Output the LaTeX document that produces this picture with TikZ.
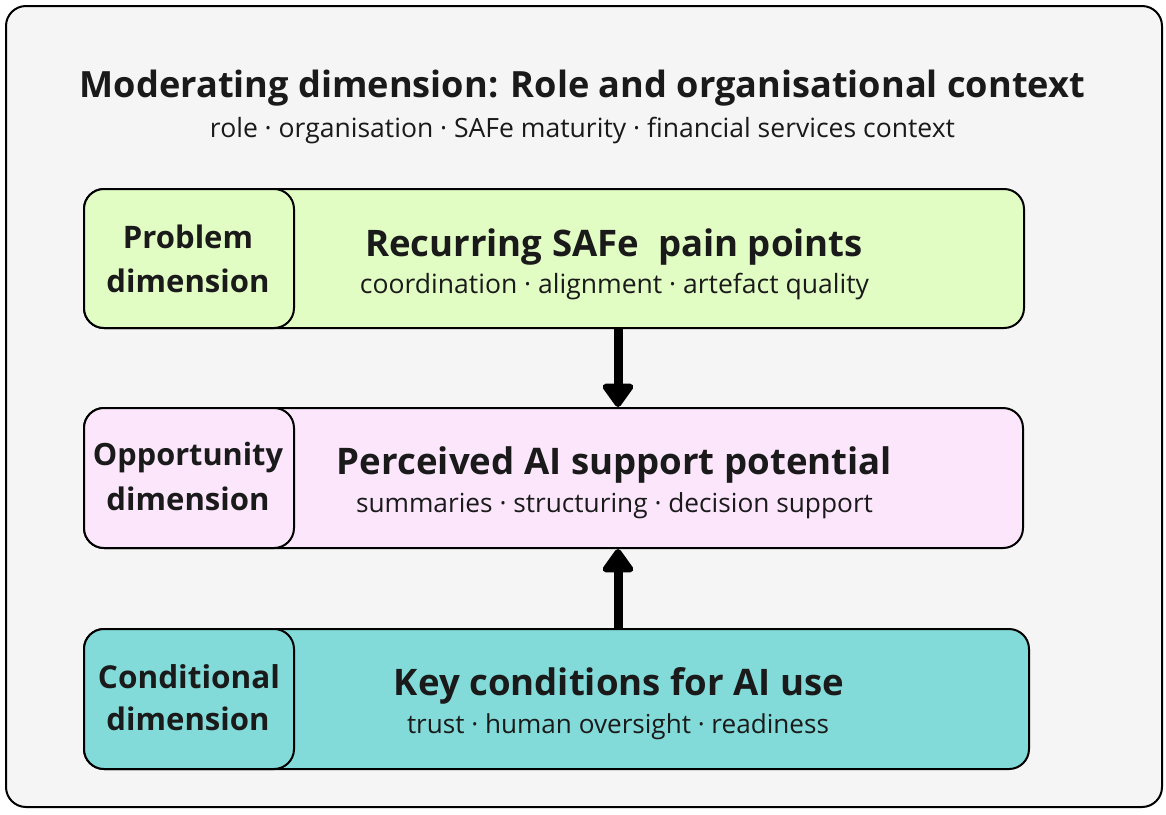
\documentclass[tikz,border=0pt]{standalone}
\usepackage{fontspec}
\setmainfont{Open Sans}
\usetikzlibrary{arrows.meta}
\definecolor{bgc}{HTML}{F5F5F5}
\definecolor{greenc}{HTML}{E1FDC4}
\definecolor{pinkc}{HTML}{FCE6FC}
\definecolor{tealc}{HTML}{82DBD9}
\definecolor{inkc}{HTML}{1A1A1A}
\newcommand{\fitw}[2]{\resizebox{#1}{!}{#2}}
\begin{document}
\begin{tikzpicture}[x=1pt,y=-1pt,
  box/.style={draw, line width=2pt, rounded corners=20pt, minimum height=139pt, anchor=north west, inner sep=0pt},
  txt/.style={anchor=base, inner sep=0pt, text=inkc},
  bigarrow/.style={line width=9pt, -{Triangle[width=35pt,length=26pt,round]}}]
\useasboundingbox (0,0) rectangle (1166,814);
\node[box, fill=bgc, minimum width=1156pt, minimum height=801pt] (outer) at (5,5) {};
\node[txt] (title) at (582.5,97) {\fitw{1005pt}{\bfseries Moderating dimension: Role and organisational context}};
\node[txt] (sub) at (582.5,137) {\fitw{745pt}{role · organisation · SAFe maturity · financial services context}};
% box 1
\node[box, fill=greenc, minimum width=940pt] (b1) at (83,188) {};
\node[box, fill=greenc, minimum width=210pt] (l1) at (83,188) {};
\node[txt] (l1a) at (188,248) {\fitw{130pt}{\bfseries Problem}};
\node[txt] (l1b) at (188,292) {\fitw{163pt}{\bfseries dimension}};
\node[txt] (m1) at (614,256) {\fitw{498pt}{\bfseries Recurring SAFe\ \ pain points}};
\node[txt] (d1) at (614.5,293) {\fitw{509pt}{coordination · alignment · artefact quality}};
% box 2
\node[box, fill=pinkc, minimum width=939pt, minimum height=140pt] (b2) at (83,407) {};
\node[box, fill=pinkc, minimum width=210pt, minimum height=140pt] (l2) at (83,407) {};
\node[txt] (l2a) at (188,465) {\fitw{190pt}{\bfseries Opportunity}};
\node[txt] (l2b) at (188,510) {\fitw{163pt}{\bfseries dimension}};
\node[txt] (m2) at (614.5,474) {\fitw{555pt}{\bfseries Perceived AI support potential}};
\node[txt] (d2) at (614.5,512) {\fitw{517pt}{summaries · structuring · decision support}};
% box 3
\node[box, fill=tealc, minimum width=945pt, minimum height=140pt] (b3) at (83,628) {};
\node[box, fill=tealc, minimum width=210pt, minimum height=140pt] (l3) at (83,628) {};
\node[txt] (l3a) at (189,688) {\fitw{182pt}{\bfseries Conditional}};
\node[txt] (l3b) at (188,730) {\fitw{163pt}{\bfseries dimension}};
\node[txt] (m3) at (619,695) {\fitw{450pt}{\bfseries Key conditions for AI use}};
\node[txt] (d3) at (618,733) {\fitw{422pt}{trust · human oversight · readiness}};
% arrows
\coordinate (ax) at (618,0);
\draw[bigarrow] (b1.south -| ax) -- (b2.north -| ax);
\draw[bigarrow] (b3.north -| ax) -- (b2.south -| ax);
\end{tikzpicture}
\end{document}
